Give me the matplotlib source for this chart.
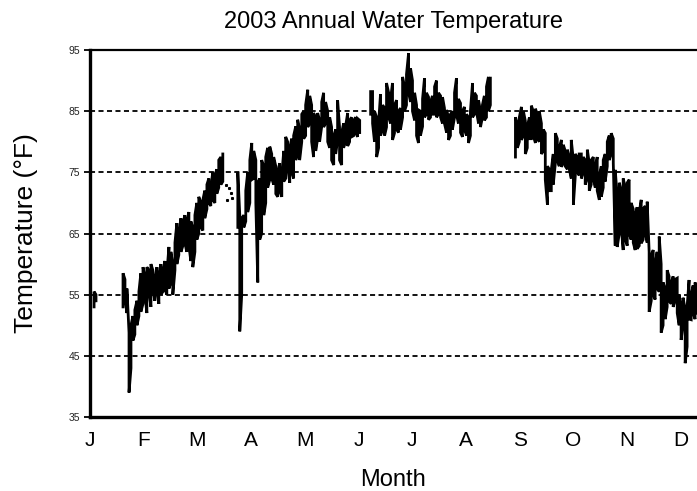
import numpy as np
import matplotlib
matplotlib.use("Agg")
import matplotlib.pyplot as plt

plt.rcParams['font.family'] = ['Liberation Sans', 'DejaVu Sans']

# ----------------------------------------------------------
# data: day of year, daily low / high (°F)
# ----------------------------------------------------------

jan_day = [2.3, 3.4]
jan_low = [53.0, 54.0]
jan_high = [55.5, 55.0]

winter_day = [18.7, 19.8, 20.9, 22.1, 23.2, 24.3, 25.4, 26.6, 27.7, 28.8,
              30.0, 31.1, 32.2, 33.3, 34.5, 35.6, 36.7, 37.9, 39.0, 40.1,
              41.3, 42.4, 43.5, 44.7, 45.8, 46.9, 48.1, 49.2, 50.3, 51.5,
              52.6, 53.7, 54.8, 56.0, 57.1, 58.2, 59.4, 60.5, 61.6, 62.8,
              63.9, 65.0, 66.2, 67.3, 68.4, 69.5, 70.7, 71.8, 72.9, 74.1,
              75.2]
winter_low = [53.0, 54.5, 52.0, 39.0, 43.0, 47.5, 48.5, 50.0, 51.5, 52.2,
              53.5, 55.0, 52.0, 55.5, 53.0, 56.0, 54.0, 55.5, 53.5, 55.0,
              55.5, 56.0, 55.0, 56.0, 57.0, 55.0, 59.0, 60.0, 61.5, 62.0,
              63.0, 63.5, 62.0, 63.0, 60.5, 59.5, 62.0, 64.0, 65.0, 66.0,
              65.5, 67.5, 69.0, 70.0, 69.5, 70.5, 70.0, 71.5, 72.5, 73.0,
              73.5]
winter_high = [58.5, 57.5, 56.0, 48.8, 50.0, 51.5, 52.5, 54.0, 55.5, 58.5,
               59.5, 58.0, 59.5, 59.0, 60.0, 59.0, 57.5, 59.5, 58.0, 60.0,
               59.0, 60.5, 58.5, 62.8, 62.0, 60.0, 63.5, 66.7, 65.0, 67.5,
               66.5, 68.0, 67.0, 68.5, 67.0, 66.0, 68.0, 70.0, 71.0, 70.0,
               70.5, 72.0, 73.0, 74.0, 72.5, 75.0, 74.5, 75.5, 77.0, 77.5,
               78.0]

# scattered single readings at the end of March
dot_day = [76.9, 77.8, 78.6, 79.7, 80.2]
dot_temp = [73.0, 70.5, 72.5, 71.6, 70.8]

spring_day = [83.7, 84.8, 85.9, 87.1, 88.2, 89.3, 90.5, 91.6, 92.7, 93.9,
              95.0, 96.1, 97.2, 98.4, 99.5, 100.6, 101.8, 102.9, 104.0, 105.2,
              106.3, 107.4, 108.6, 109.7, 110.8, 111.9, 113.1, 114.2, 115.3, 116.5,
              117.6, 118.7, 119.9, 121.0, 122.1, 123.3, 124.4, 125.5, 126.6, 127.8,
              128.9, 130.0, 131.2, 132.3, 133.4, 134.6, 135.7, 136.8, 138.0, 139.1,
              140.2, 141.3, 142.5, 143.6, 144.7, 145.9, 147.0, 148.1, 149.3, 150.4,
              151.5, 152.7]
spring_low = [66.0, 49.0, 55.0, 66.0, 67.0, 68.5, 70.0, 73.8, 74.0, 70.0,
              57.0, 64.0, 65.0, 68.0, 70.0, 72.5, 73.8, 74.0, 73.0, 71.5,
              71.0, 72.0, 71.0, 73.5, 74.0, 76.0, 73.3, 75.0, 74.0, 77.0,
              78.0, 77.0, 80.0, 80.5, 81.0, 82.4, 83.0, 80.0, 77.5, 78.5,
              80.5, 80.0, 82.5, 82.4, 83.0, 80.0, 79.0, 77.0, 76.2, 78.0,
              80.3, 77.0, 76.2, 79.0, 80.0, 79.3, 80.0, 80.8, 81.0, 81.5,
              80.8, 81.5]
spring_high = [75.0, 68.0, 67.5, 68.0, 72.0, 75.0, 77.0, 79.8, 78.5, 77.0,
               73.3, 74.0, 77.0, 76.0, 77.5, 79.0, 79.2, 78.0, 77.5, 76.0,
               75.0, 76.5, 74.5, 78.5, 80.8, 80.0, 79.0, 80.5, 81.0, 82.5,
               83.6, 82.0, 84.5, 85.0, 86.0, 88.5, 87.5, 86.0, 84.7, 84.0,
               84.7, 83.5, 86.5, 88.0, 86.5, 85.0, 84.0, 82.4, 81.0, 82.0,
               86.8, 82.4, 81.5, 83.0, 82.5, 84.7, 83.5, 84.0, 83.5, 84.0,
               83.8, 83.5]

summer_day = [158.9, 160.0, 161.1, 162.3, 163.4, 164.5, 165.7, 166.8, 167.9, 169.1,
              170.2, 171.3, 172.4, 173.6, 174.7, 175.8, 177.0, 178.1, 179.2, 180.4,
              181.5, 182.6, 183.8, 184.9, 186.0, 187.1, 188.3, 189.4, 190.5, 191.7,
              192.8, 193.9, 195.1, 196.2, 197.3, 198.5, 199.6, 200.7, 201.9, 203.0,
              204.1, 205.2, 206.4, 207.5, 208.6, 209.8, 210.9, 212.0, 213.2, 214.3,
              215.4, 216.6, 217.7, 218.8, 220.0, 221.1, 222.2, 223.3, 224.5, 225.6,
              226.7]
summer_low = [84.5, 83.0, 80.0, 77.5, 79.0, 81.0, 82.0, 81.0, 82.4, 84.0,
              83.0, 80.3, 81.4, 82.0, 81.5, 82.0, 84.0, 85.0, 86.0, 88.0,
              86.5, 85.0, 83.5, 81.0, 79.8, 81.0, 82.5, 84.0, 84.5, 83.6,
              84.0, 84.5, 84.5, 84.0, 84.5, 84.0, 83.0, 83.0, 81.5, 80.3,
              81.0, 82.0, 84.0, 84.5, 83.0, 81.5, 80.8, 82.0, 81.0, 79.8,
              81.0, 84.0, 84.5, 85.0, 83.0, 82.4, 84.0, 83.5, 84.0, 85.0,
              86.0]
summer_high = [88.2, 88.2, 85.0, 84.0, 83.0, 87.8, 86.0, 85.5, 89.6, 88.0,
               87.0, 89.6, 86.0, 86.8, 85.0, 85.5, 90.6, 89.0, 91.0, 94.5,
               92.0, 90.0, 88.0, 86.0, 85.2, 85.0, 87.0, 90.4, 88.0, 87.3,
               86.5, 87.5, 89.0, 90.0, 88.0, 87.5, 87.3, 85.5, 85.2, 84.0,
               84.5, 85.0, 88.0, 90.4, 87.0, 86.3, 85.0, 85.7, 84.5, 84.0,
               85.0, 89.6, 88.0, 87.5, 86.8, 85.0, 86.0, 87.5, 89.0, 90.6,
               90.4]

fall_day = [240.9, 242.0, 243.1, 244.3, 245.4, 246.5, 247.6, 248.8, 249.9, 251.0,
            252.2, 253.3, 254.4, 255.6, 256.7, 257.8, 259.0, 260.1, 261.2, 262.3,
            263.5, 264.6, 265.7, 266.9, 268.0, 269.1, 270.3, 271.4, 272.5, 273.7,
            274.8, 275.9, 277.0, 278.2, 279.3, 280.4, 281.6, 282.7, 283.8, 285.0,
            286.1, 287.2, 288.4, 289.5, 290.6, 291.7, 292.9, 294.0, 295.1, 296.3,
            297.4, 298.5, 299.7, 300.8, 301.9, 303.1, 304.2, 305.3, 306.4, 307.6,
            308.7, 309.8, 311.0, 312.1, 313.2, 314.4, 315.5, 316.6, 317.8, 318.9,
            320.0, 321.1, 322.3, 323.4, 324.5, 325.7, 326.8, 327.9, 329.1, 330.2,
            331.3, 332.5, 333.6, 334.7, 335.8, 337.0, 338.1, 339.2, 340.4, 341.5,
            342.6, 343.8]
fall_low = [77.5, 79.0, 80.0, 80.3, 81.0, 78.0, 79.0, 80.5, 80.5, 81.0,
            79.8, 80.5, 80.0, 78.0, 78.5, 73.8, 69.7, 72.0, 72.0, 73.0,
            76.5, 77.0, 76.0, 75.9, 76.5, 76.0, 75.5, 75.5, 74.0, 69.7,
            74.5, 75.0, 74.5, 74.0, 75.0, 73.0, 74.0, 72.0, 73.0, 74.0,
            72.5, 72.0, 70.5, 71.0, 72.5, 73.5, 76.0, 77.0, 78.0, 76.5,
            63.0, 62.8, 65.0, 66.0, 62.3, 64.0, 63.0, 65.0, 64.0, 63.5,
            62.3, 62.5, 63.0, 63.4, 64.0, 65.0, 63.5, 52.2, 54.0, 55.0,
            54.2, 56.0, 55.5, 48.8, 50.0, 51.0, 53.0, 54.0, 53.5, 53.0,
            54.0, 52.0, 50.0, 47.6, 50.0, 43.8, 46.5, 51.0, 50.9, 52.0,
            51.0, 52.0]
fall_high = [84.0, 83.0, 84.0, 85.7, 85.0, 83.4, 82.5, 84.0, 85.9, 85.0,
             85.4, 84.5, 85.0, 83.0, 82.0, 81.4, 76.0, 75.5, 75.4, 78.0,
             81.4, 80.5, 79.0, 80.3, 79.5, 78.5, 78.7, 77.5, 80.3, 77.0,
             78.0, 77.5, 78.0, 78.0, 77.5, 77.0, 78.7, 76.5, 77.0, 77.5,
             76.0, 77.5, 74.5, 76.0, 77.0, 78.0, 80.0, 81.0, 81.4, 80.5,
             75.4, 71.0, 73.3, 72.0, 74.0, 72.5, 73.3, 73.8, 70.0, 69.0,
             68.0, 69.3, 68.5, 70.5, 69.0, 69.5, 70.2, 62.0, 61.5, 62.3,
             60.0, 62.0, 64.5, 60.0, 57.0, 56.0, 59.0, 58.0, 57.0, 58.0,
             57.5, 57.7, 55.0, 53.0, 54.5, 52.6, 53.0, 57.4, 55.0, 56.5,
             57.0, 55.5]

month_labels = ["J", "F", "M", "A", "M", "J", "J", "A", "S", "O", "N", "D"]
y_ticks = [35, 45, 55, 65, 75, 85, 95]
grid_levels = [45, 55, 65, 75, 85]


def band(ax, day, low, high):
    # draw the hourly spread as a tight zig-zag of vertical strokes
    xs, ys = [], []
    for i, (d, lo, hi) in enumerate(zip(day, low, high)):
        xs += [d, d]
        ys += [lo, hi] if i % 2 == 0 else [hi, lo]
    ax.plot(xs, ys, color="black", lw=2.0, solid_joinstyle="miter", zorder=3)


fig = plt.figure(figsize=(6.97, 4.91), dpi=100)
ax = fig.add_axes([90/697, 1 - 417/491, 607/697, 367/491])

for lvl in grid_levels:
    ax.axhline(lvl, color="black", lw=1.3, linestyle=(0, (2.8, 1.9)), zorder=1)

band(ax, jan_day, jan_low, jan_high)
band(ax, winter_day, winter_low, winter_high)
band(ax, spring_day, spring_low, spring_high)
band(ax, summer_day, summer_low, summer_high)
band(ax, fall_day, fall_low, fall_high)
ax.plot(dot_day, dot_temp, "s", color="black", ms=1.2, zorder=3)

ax.set_xlim(0.5, 343.7)
ax.set_ylim(35, 95)

ax.set_xticks(np.arange(12) * 365 / 12)
ax.set_xticklabels(month_labels, fontsize=15)
ax.tick_params(axis="x", length=0, pad=10)

ax.set_yticks(y_ticks)
ax.tick_params(axis="y", labelsize=7.5, labelcolor="#222222",
               length=4, width=1.3, pad=3)

for side in ["left", "bottom"]:
    ax.spines[side].set_linewidth(2.4)
ax.spines["top"].set_linewidth(1.6)
ax.spines["right"].set_visible(False)

ax.set_title("2003 Annual Water Temperature", fontsize=17, pad=16)
ax.set_xlabel("Month", fontsize=17, labelpad=14)
ax.set_ylabel("Temperature (°F)", fontsize=19, labelpad=22)

fig.savefig("out.png", dpi=100)
